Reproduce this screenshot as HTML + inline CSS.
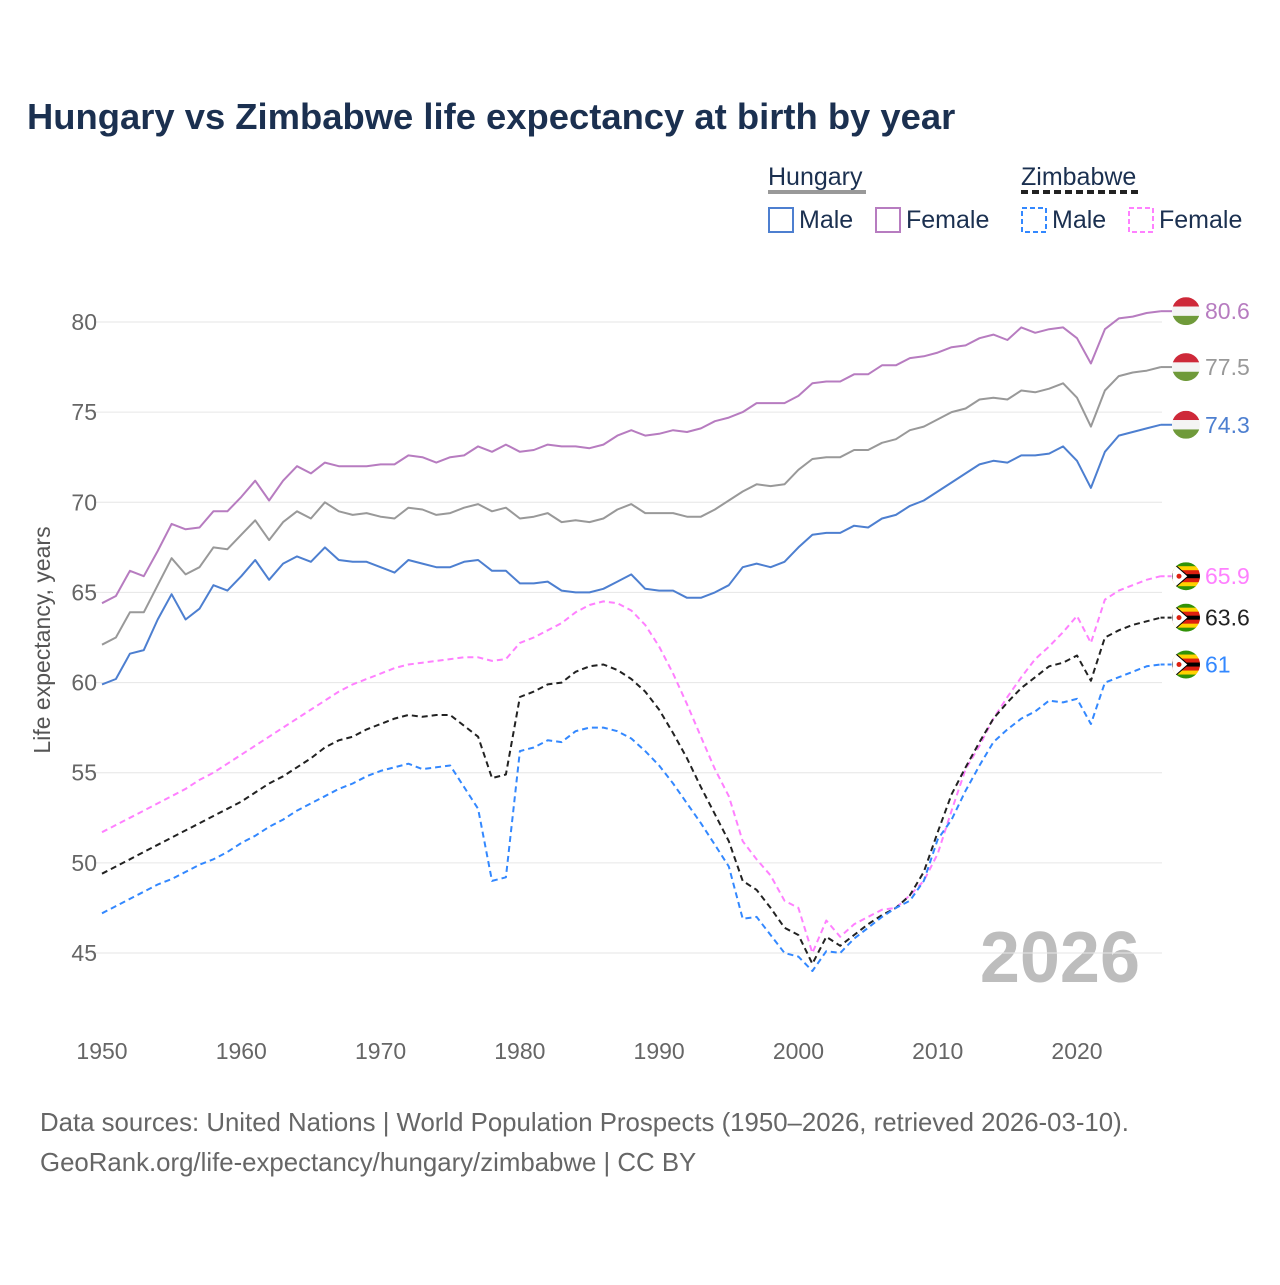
<!DOCTYPE html>
<html><head><meta charset="utf-8">
<style>
body{margin:0;background:#fff;}
svg text{font-family:"Liberation Sans",sans-serif;}
</style></head>
<body>
<svg id="chart" width="1280" height="1280" viewBox="0 0 1280 1280" xmlns="http://www.w3.org/2000/svg">
<rect width="1280" height="1280" fill="#fff"/>
<text x="27" y="129" font-size="36.4" font-weight="bold" fill="#1b3050">Hungary vs Zimbabwe life expectancy at birth by year</text>
<g font-size="25" fill="#1b3050">
<text x="768" y="185" fill="#1b3050">Hungary</text>
<line x1="768" y1="192" x2="866" y2="192" stroke="#999" stroke-width="4"/>
<text x="1021" y="185" fill="#1b3050">Zimbabwe</text>
<line x1="1021" y1="192" x2="1141" y2="192" stroke="#222" stroke-width="4" stroke-dasharray="7,4"/>
<g><rect x="769" y="208" width="24" height="24" fill="none" stroke="#4d7fd0" stroke-width="2"/><text x="799" y="228" fill="#1b3050">Male</text></g>
<g><rect x="876" y="208" width="24" height="24" fill="none" stroke="#b77cc0" stroke-width="2"/><text x="906" y="228" fill="#1b3050">Female</text></g>
<g><rect x="1022" y="208" width="24" height="24" fill="none" stroke="#3388ff" stroke-width="2" stroke-dasharray="5,3"/><text x="1052" y="228" fill="#1b3050">Male</text></g>
<g><rect x="1129" y="208" width="24" height="24" fill="none" stroke="#ff80ff" stroke-width="2" stroke-dasharray="5,3"/><text x="1159" y="228" fill="#1b3050">Female</text></g>
</g>
<text transform="translate(50,640) rotate(-90)" text-anchor="middle" font-size="23" fill="#555">Life expectancy, years</text>
<text x="1140" y="982" text-anchor="end" font-size="72" font-weight="bold" fill="#bdbdbd">2026</text>
<g id="grid"></g><g id="series"></g><g id="ends"></g>
<text x="40" y="1131" font-size="25.8" fill="#666">Data sources: United Nations | World Population Prospects (1950–2026, retrieved 2026-03-10).</text>
<text x="40" y="1171" font-size="25.8" fill="#666">GeoRank.org/life-expectancy/hungary/zimbabwe | CC BY</text>
</svg>
<script>
const startYear=1950;
const yTicks=[45,50,55,60,65,70,75,80];
const xTicks=[1950,1960,1970,1980,1990,2000,2010,2020];
const huFemale=[64.4,64.8,66.2,65.9,67.3,68.8,68.5,68.6,69.5,69.5,70.3,71.2,70.1,71.2,72.0,71.6,72.2,72.0,72.0,72.0,72.1,72.1,72.6,72.5,72.2,72.5,72.6,73.1,72.8,73.2,72.8,72.9,73.2,73.1,73.1,73.0,73.2,73.7,74.0,73.7,73.8,74.0,73.9,74.1,74.5,74.7,75.0,75.5,75.5,75.5,75.9,76.6,76.7,76.7,77.1,77.1,77.6,77.6,78.0,78.1,78.3,78.6,78.7,79.1,79.3,79.0,79.7,79.4,79.6,79.7,79.1,77.7,79.6,80.2,80.3,80.5,80.6];
const huTotal=[62.1,62.5,63.9,63.9,65.4,66.9,66.0,66.4,67.5,67.4,68.2,69.0,67.9,68.9,69.5,69.1,70.0,69.5,69.3,69.4,69.2,69.1,69.7,69.6,69.3,69.4,69.7,69.9,69.5,69.7,69.1,69.2,69.4,68.9,69.0,68.9,69.1,69.6,69.9,69.4,69.4,69.4,69.2,69.2,69.6,70.1,70.6,71.0,70.9,71.0,71.8,72.4,72.5,72.5,72.9,72.9,73.3,73.5,74.0,74.2,74.6,75.0,75.2,75.7,75.8,75.7,76.2,76.1,76.3,76.6,75.8,74.2,76.2,77.0,77.2,77.3,77.5];
const huMale=[59.9,60.2,61.6,61.8,63.5,64.9,63.5,64.1,65.4,65.1,65.9,66.8,65.7,66.6,67.0,66.7,67.5,66.8,66.7,66.7,66.4,66.1,66.8,66.6,66.4,66.4,66.7,66.8,66.2,66.2,65.5,65.5,65.6,65.1,65.0,65.0,65.2,65.6,66.0,65.2,65.1,65.1,64.7,64.7,65.0,65.4,66.4,66.6,66.4,66.7,67.5,68.2,68.3,68.3,68.7,68.6,69.1,69.3,69.8,70.1,70.6,71.1,71.6,72.1,72.3,72.2,72.6,72.6,72.7,73.1,72.3,70.8,72.8,73.7,73.9,74.1,74.3];
const zwFemale=[51.7,52.1,52.5,52.9,53.3,53.7,54.1,54.6,55.0,55.5,56.0,56.5,57.0,57.5,58.0,58.5,59.0,59.5,59.9,60.2,60.5,60.8,61.0,61.1,61.2,61.3,61.4,61.4,61.2,61.3,62.2,62.5,62.9,63.3,63.9,64.3,64.5,64.4,64.0,63.2,62.0,60.5,58.8,57.0,55.2,53.7,51.2,50.2,49.3,47.9,47.5,45.0,46.8,45.9,46.6,47.0,47.4,47.5,48.2,49.0,50.5,52.9,55.2,56.5,58.0,59.2,60.3,61.3,62.0,62.8,63.7,62.2,64.6,65.1,65.4,65.7,65.9];
const zwTotal=[49.4,49.8,50.2,50.6,51.0,51.4,51.8,52.2,52.6,53.0,53.4,53.9,54.4,54.8,55.3,55.8,56.4,56.8,57.0,57.4,57.7,58.0,58.2,58.1,58.2,58.2,57.6,57.0,54.7,54.9,59.2,59.5,59.9,60.0,60.6,60.9,61.0,60.7,60.2,59.5,58.5,57.2,55.8,54.2,52.7,51.2,49.0,48.5,47.5,46.4,46.0,44.4,45.9,45.4,46.0,46.6,47.1,47.5,48.2,49.5,51.7,53.8,55.3,56.7,58.0,58.9,59.7,60.3,60.9,61.1,61.5,60.1,62.5,62.9,63.2,63.4,63.6];
const zwMale=[47.2,47.6,48.0,48.4,48.8,49.1,49.5,49.9,50.2,50.6,51.1,51.5,52.0,52.4,52.9,53.3,53.7,54.1,54.4,54.8,55.1,55.3,55.5,55.2,55.3,55.4,54.2,53.0,49.0,49.2,56.2,56.4,56.8,56.7,57.3,57.5,57.5,57.3,56.9,56.2,55.4,54.4,53.3,52.2,51.0,49.8,46.9,47.0,46.0,45.0,44.8,44.0,45.1,45.0,45.8,46.4,47.0,47.5,47.9,49.0,51.3,52.4,54.0,55.4,56.7,57.4,58.0,58.4,59.0,58.9,59.1,57.7,60.0,60.3,60.6,60.9,61.0];

const NS="http://www.w3.org/2000/svg";
const X=yr=>102+(yr-1950)*(1077-102)/70;
const Y=v=>953-(v-45)*(953-322)/35;
function mk(tag,attrs,parent){const e=document.createElementNS(NS,tag);for(const k in attrs)e.setAttribute(k,attrs[k]);parent.appendChild(e);return e;}
const grid=document.getElementById('grid');
yTicks.forEach(t=>{
  const l=mk('line',{x1:95,x2:1162,y1:Y(t),y2:Y(t),stroke:'#e6e6e6','stroke-width':1},grid);
  
  
  const tx=mk('text',{x:97,y:Y(t)+8,'text-anchor':'end','font-size':23,fill:'#666'},grid);
  tx.textContent=t;
  
  
});
xTicks.forEach(t=>{
  const tx=mk('text',{x:X(t),y:1059,'text-anchor':'middle','font-size':23,fill:'#666'},grid);
  tx.textContent=t;
  
  
});
const seriesDefs=[
 {name:'hungary-female',d:huFemale,c:'#b77cc0',dash:null,flag:'hu'},
 {name:'hungary-total',d:huTotal,c:'#999999',dash:null,flag:'hu'},
 {name:'hungary-male',d:huMale,c:'#4d7fd0',dash:null,flag:'hu'},
 {name:'zimbabwe-female',d:zwFemale,c:'#ff80ff',dash:'6,4',flag:'zw'},
 {name:'zimbabwe-total',d:zwTotal,c:'#222222',dash:'6,4',flag:'zw'},
 {name:'zimbabwe-male',d:zwMale,c:'#3388ff',dash:'6,4',flag:'zw'}
];
const sg=document.getElementById('series'),eg=document.getElementById('ends');
seriesDefs.forEach(s=>{
  const pts=s.d.map((v,i)=>X(startYear+i).toFixed(1)+','+Y(v).toFixed(1)).join(' ');
  const a={points:pts,fill:'none',stroke:s.c,'stroke-width':2,'stroke-linejoin':'round'};
  if(s.dash)a['stroke-dasharray']=s.dash;
  const pl=mk('polyline',a,sg);
  
  
  const last=s.d[s.d.length-1];
  const ex=X(startYear+s.d.length-1),ey=Y(last);
  const ln=mk('line',{x1:ex,y1:ey,x2:1172,y2:ey,stroke:s.c,'stroke-width':2},eg);
  if(s.dash)ln.setAttribute('stroke-dasharray','4,3');
  const g=mk('g',{},eg);
  
  
  const cx=1186,r=14,id='clip-'+s.name;
  const cp=mk('clipPath',{id:id},g);mk('circle',{cx:cx,cy:ey,r:r},cp);
  const fg=mk('g',{'clip-path':'url(#'+id+')'},g);
  if(s.flag==='hu'){
    mk('rect',{x:cx-r,y:ey-r,width:2*r,height:2*r/3,fill:'#ce2939'},fg);
    mk('rect',{x:cx-r,y:ey-r/3,width:2*r,height:2*r/3,fill:'#f4f4f4'},fg);
    mk('rect',{x:cx-r,y:ey+r/3,width:2*r,height:2*r/3,fill:'#6f9a3a'},fg);
  }else{
    const cols=['#319208','#ffd200','#de2010','#000','#de2010','#ffd200','#319208'];
    cols.forEach((c,i)=>mk('rect',{x:cx-r,y:ey-r+i*2*r/7,width:2*r,height:2*r/7+0.5,fill:c},fg));
    mk('polygon',{points:(cx-r)+','+(ey-r)+' '+(cx+2)+','+ey+' '+(cx-r)+','+(ey+r),fill:'#fff',stroke:'#000','stroke-width':1},fg);
    mk('circle',{cx:cx-7,cy:ey,r:2.5,fill:'#de2010'},fg);
  }
  const lb=mk('text',{x:1205,y:ey+8,'font-size':23,fill:s.c},eg);
  lb.textContent=last;
  
  
});
</script>
</body></html>
